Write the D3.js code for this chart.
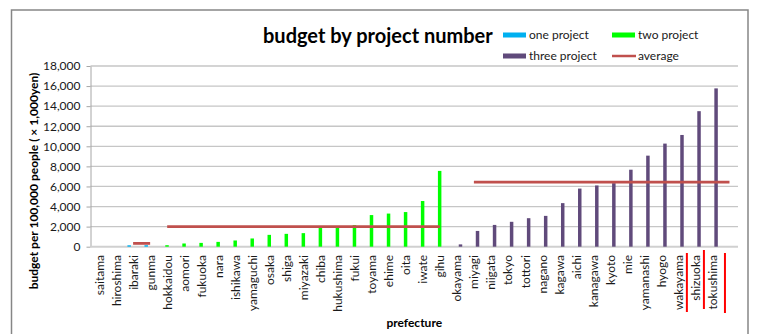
<!DOCTYPE html>
<html>
<head>
<meta charset="utf-8">
<script src="https://cdn.jsdelivr.net/npm/d3@7/dist/d3.min.js"></script>
<style>
  html, body { margin: 0; padding: 0; background: #fff; }
  svg { display: block; }
  text { font-family: Lato, "Open Sans", sans-serif; }
</style>
</head>
<body>
<script>
// ---- data ----
const categories = ["saitama","hiroshima","ibaraki","gunma","hokkaidou","aomori","fukuoka","nara","ishikawa","yamaguchi","osaka","shiga","miyazaki","chiba","hukushima","fukui","toyama","ehime","oita","iwate","gihu","okayama","miyagi","niigata","tokyo","tottori","nagano","kagawa","aichi","kanagawa","kyoto","mie","yamanashi","hyogo","wakayama","shizuoka","tokushima",""];
const seriesNames = ["one project","two project","three project"];
const oneProject = {ibaraki:140, gunma:150};
const twoProject = {hokkaidou:150, aomori:320, fukuoka:380, nara:480, ishikawa:620, yamaguchi:820, osaka:1180, shiga:1280, miyazaki:1350, chiba:1880, hukushima:1900, fukui:2150, toyama:3150, ehime:3300, oita:3450, iwate:4550, gihu:7550};
const threeProject = {okayama:230, miyagi:1570, niigata:2170, tokyo:2480, tottori:2840, nagano:3070, kagawa:4340, aichi:5790, kanagawa:6100, kyoto:6330, mie:7670, yamanashi:9070, hyogo:10270, wakayama:11130, shizuoka:13500, tokushima:15770};
const averageValues = [330, 2000, 6440];
const averageFrom = ["ibaraki","hokkaidou","miyagi"];
const averageTo = ["gunma","gihu",""];
const yTicks = [0,2000,4000,6000,8000,10000,12000,14000,16000,18000];
const markedCats = ["shizuoka","tokushima",""];

const colors = {"one project":"#00b0f0","two project":"#00ff00","three project":"#604a7b"};
const avgColor = "#c0504d";

const W = 757, H = 334;
const svg = d3.select("body").append("svg").attr("width", W).attr("height", H);
svg.append("rect").attr("width", W).attr("height", H).attr("fill", "#fff");

// chart border
svg.append("rect").attr("x", 11.5).attr("y", 10).attr("width", 736.5).attr("height", 340)
  .attr("fill", "none").attr("stroke", "#868686").attr("stroke-width", 1.5);

const plotL = 90.5, plotR = 738, plotB = 246.7, plotT = 66;
const x = d3.scaleBand().domain(categories).range([plotL, plotR]).padding(0);
const xs = d3.scaleBand().domain(seriesNames).range([0, x.bandwidth()]).paddingInner(0).paddingOuter(0.75);
const y = d3.scaleLinear().domain([0, 18000]).range([plotB, plotT]);

// gridlines
svg.append("g").selectAll("line").data(yTicks.filter(d => d > 0)).join("line")
  .attr("x1", plotL).attr("x2", plotR).attr("y1", d => y(d)).attr("y2", d => y(d))
  .attr("stroke", "#c6c6c6").attr("stroke-width", 1.3);

// y axis
const yAxis = svg.append("g").attr("transform", `translate(${plotL},0)`)
  .call(d3.axisLeft(y).tickValues(yTicks).tickFormat(d3.format(",")).tickSize(4).tickSizeOuter(0));
yAxis.select(".domain").attr("stroke", "#a6a6a6");
yAxis.selectAll(".tick line").attr("stroke", "#a6a6a6");
yAxis.selectAll(".tick text").attr("font-size", 12).attr("fill", "#1a1a1a").attr("x", -10)
  .attr("font-family", "Lato, sans-serif");

// baseline
svg.append("line").attr("x1", plotL).attr("x2", plotR).attr("y1", y(0)).attr("y2", y(0))
  .attr("stroke", "#d0d0d0").attr("stroke-width", 2);

// bars
const seriesData = [oneProject, twoProject, threeProject];
seriesNames.forEach((s, i) => {
  const entries = Object.entries(seriesData[i]);
  svg.append("g").selectAll("rect").data(entries).join("rect")
    .attr("x", d => x(d[0]) + xs(s))
    .attr("width", xs.bandwidth() * 0.92)
    .attr("y", d => y(d[1]))
    .attr("height", d => y(0) - y(d[1]))
    .attr("fill", colors[s]);
});

// average lines
averageValues.forEach((v, i) => {
  const pts = [[x(averageFrom[i]) + x.bandwidth()/2, y(v)], [x(averageTo[i]) + x.bandwidth()/2, y(v)]];
  svg.append("path").attr("d", d3.line()(pts)).attr("stroke", avgColor).attr("stroke-width", 2.8).attr("fill", "none");
});

// x labels
svg.append("g").selectAll("text").data(categories.filter(c => c !== "")).join("text")
  .attr("transform", d => `translate(${x(d) + x.bandwidth()/2 + 4.5},255) rotate(-90)`)
  .attr("text-anchor", "end").attr("font-size", 12).attr("fill", "#1a1a1a").text(d => d);

// red annotation marks
const markY = [[253, 312], [250, 309], [253, 313]];
markedCats.forEach((c, i) => {
  const xx = x(c) + (c === "" ? 4 : 0);
  svg.append("line").attr("x1", xx).attr("x2", xx).attr("y1", markY[i][0]).attr("y2", markY[i][1])
    .attr("stroke", "#ff0000").attr("stroke-width", 2);
});

// axis titles
svg.append("text").attr("x", (plotL + plotR)/2).attr("y", 327).attr("text-anchor", "middle")
  .attr("font-size", 12).attr("font-weight", "bold").attr("fill", "#000").text("prefecture");
svg.append("text").attr("transform", "translate(38,181) rotate(-90)").attr("text-anchor", "middle")
  .attr("font-size", 12).attr("font-weight", "bold").attr("fill", "#000").text("budget per 100,000 people ( × 1,000yen)");

// title
svg.append("text").attr("x", 263).attr("y", 43).attr("font-size", 20).attr("font-weight", "bold")
  .attr("fill", "#000").text("budget by project number");

// legend
const legend = [
  {name: "one project", x: 503, y: 35, type: "rect"},
  {name: "two project", x: 612, y: 35, type: "rect"},
  {name: "three project", x: 503, y: 56, type: "rect"},
  {name: "average", x: 612, y: 56, type: "line"}
];
legend.forEach(l => {
  if (l.type === "rect") {
    svg.append("rect").attr("x", l.x).attr("y", l.y - 2.5).attr("width", 23).attr("height", 5).attr("fill", colors[l.name]);
  } else {
    svg.append("line").attr("x1", l.x).attr("x2", l.x + 24).attr("y1", l.y).attr("y2", l.y)
      .attr("stroke", avgColor).attr("stroke-width", 2.5);
  }
  svg.append("text").attr("x", l.x + 26).attr("y", l.y + 4).attr("font-size", 12).attr("fill", "#1a1a1a").text(l.name);
});
</script>
</body>
</html>
